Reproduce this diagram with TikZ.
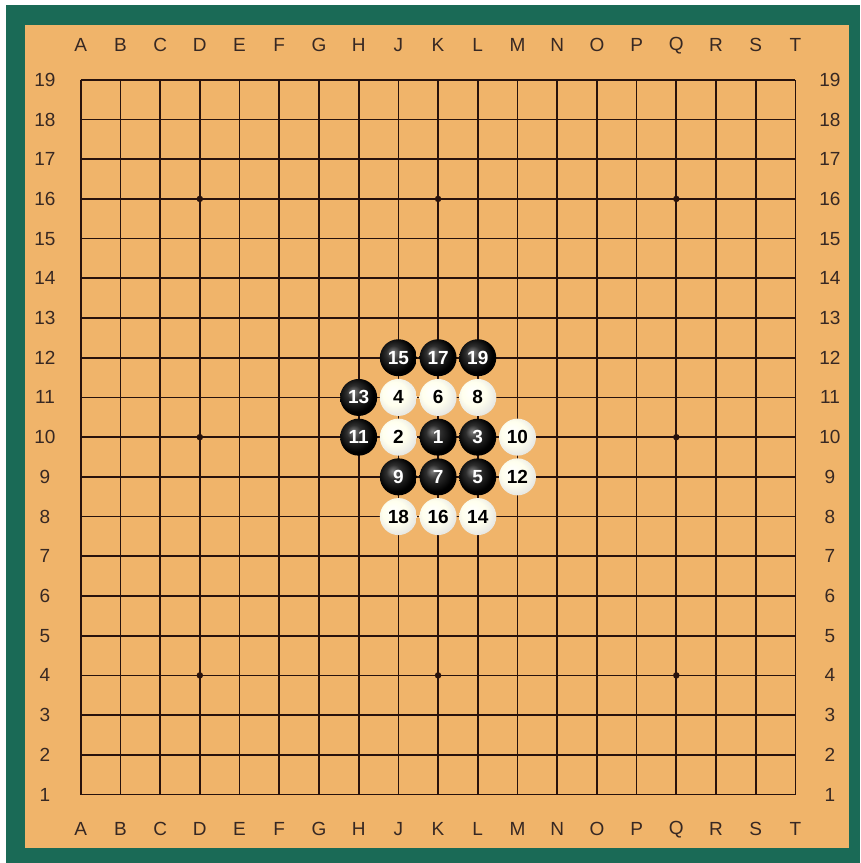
\documentclass[tikz,border=0pt]{standalone}
\usepackage{fontspec}
\setmainfont{Liberation Sans}
\usetikzlibrary{positioning}

\definecolor{felt}{RGB}{26,106,86}
\definecolor{wood}{RGB}{240,180,106}
\definecolor{gridline}{RGB}{40,18,12}
\definecolor{coordtext}{RGB}{55,40,35}

\pgfdeclareradialshading{blackstone}{\pgfpoint{-8bp}{8bp}}{color(0bp)=(black!50); color(10bp)=(black!82); color(24bp)=(black); color(50bp)=(black)}
\pgfdeclareradialshading{whitestone}{\pgfpoint{-8bp}{8bp}}{color(0bp)=(white); color(16bp)=(white!93!yellow); color(32bp)=(black!12); color(50bp)=(black!22)}

\tikzset{
  stoneb/.style={circle, minimum size=37pt, inner sep=0pt, shading=blackstone, text=white,
    font=\bfseries\fontsize{19}{19}\selectfont},
  stonew/.style={circle, minimum size=37pt, inner sep=0pt, shading=whitestone, text=black,
    font=\bfseries\fontsize{19}{19}\selectfont},
  coordlabel/.style={text=coordtext, font=\fontsize{19}{19}\selectfont},
  starpt/.style={circle, fill=gridline, inner sep=0pt, minimum size=6.5pt}
}

\begin{document}
\begin{tikzpicture}[x=39.7pt,y=39.7pt]
        \useasboundingbox (-2.033,-1.725) rectangle (19.63,20.01);

        % Board
        \fill[felt] (-1.88,-1.725) rectangle (19.63,19.89);
        \fill[wood] (-1.403,-1.348) rectangle (19.35,19.38);

        % Grid
        \foreach \i in {0,...,18} {
          \draw[gridline, line width=1.7pt] (\i,0) -- (\i,18);
          \draw[gridline, line width=1.7pt] (0,\i) -- (18,\i);
        }

        % Star points
        \foreach \x in {3,9,15}
          \foreach \y in {3,9,15}
            \node[starpt] (hoshi\x\y) at (\x,\y) {};

        % Coordinates
        \foreach \l [count=\i from 0] in {A,B,C,D,E,F,G,H,J,K,L,M,N,O,P,Q,R,S,T} {
          \node[coordlabel] (top\l) at (\i,18.87) {\l};
          \node[coordlabel] (bot\l) at (\i,-0.88) {\l};
        }
        \foreach \n [count=\i from 0] in {1,...,19} {
          \node[coordlabel] (left\n) at (-0.9,\i) {\n};
          \node[coordlabel] (right\n) at (18.87,\i) {\n};
        }

        % Stones
        \node[stoneb] (m1) at (9,9) {1};
        \node[stonew] (m2) at (8,9) {2};
        \node[stoneb] (m3) at (10,9) {3};
        \node[stonew] (m4) at (8,10) {4};
        \node[stoneb] (m5) at (10,8) {5};
        \node[stonew] (m6) at (9,10) {6};
        \node[stoneb] (m7) at (9,8) {7};
        \node[stonew] (m8) at (10,10) {8};
        \node[stoneb] (m9) at (8,8) {9};
        \node[stonew] (m10) at (11,9) {10};
        \node[stoneb] (m11) at (7,9) {11};
        \node[stonew] (m12) at (11,8) {12};
        \node[stoneb] (m13) at (7,10) {13};
        \node[stonew] (m14) at (10,7) {14};
        \node[stoneb] (m15) at (8,11) {15};
        \node[stonew] (m16) at (9,7) {16};
        \node[stoneb] (m17) at (9,11) {17};
        \node[stonew] (m18) at (8,7) {18};
        \node[stoneb] (m19) at (10,11) {19};
      \end{tikzpicture}
\end{document}
